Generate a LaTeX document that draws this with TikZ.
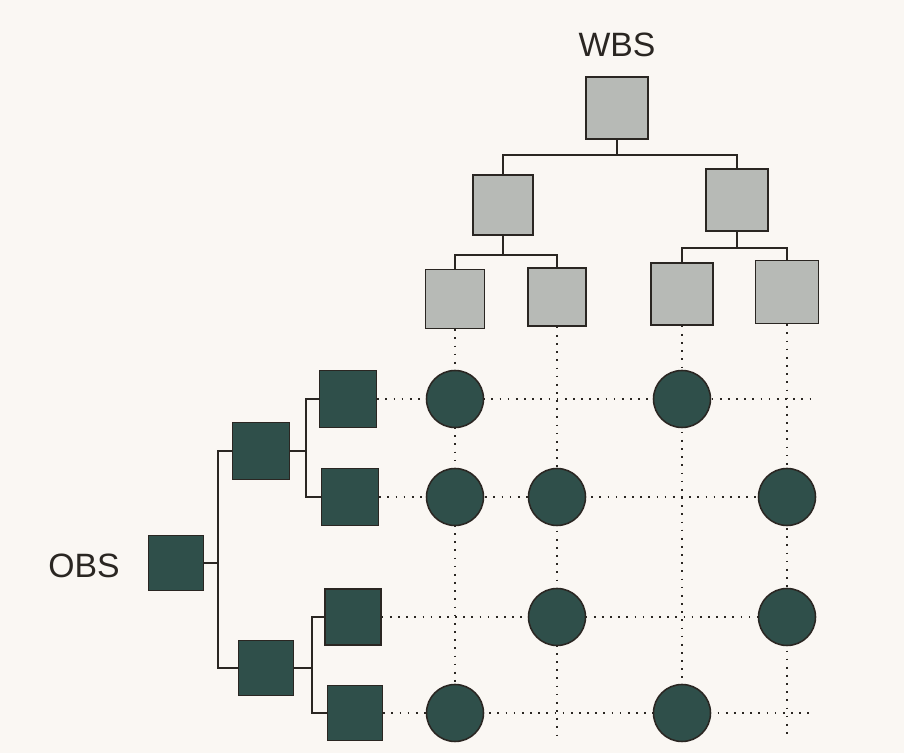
\documentclass[tikz,border=0pt]{standalone}
\usepackage{fontspec}
\setmainfont{Liberation Sans}
\usepackage{tikz}
\usetikzlibrary{calc}
\definecolor{paper}{HTML}{FAF7F3}
\definecolor{wbsgrey}{HTML}{B7BAB6}
\definecolor{obsteal}{HTML}{2F4F4A}
\definecolor{ink}{HTML}{2A2622}

\begin{document}
\begin{tikzpicture}[x=0.025cm,y=-0.025cm,
  wbox/.style={draw=ink,line width=1.1pt,fill=wbsgrey,inner sep=0pt,minimum size=#1*0.025cm},
  obox/.style={draw=ink,line width=1.1pt,fill=obsteal,inner sep=0pt,minimum size=#1*0.025cm},
  cell/.style={circle,draw=ink,line width=1.1pt,fill=obsteal,inner sep=0pt,minimum size=57*0.025cm},
  tree/.style={draw=ink,line width=1pt},
  grid/.style={draw=ink,line width=1.2pt,dash pattern=on 1.2pt off 4.6pt},
  lbl/.style={text=ink,font=\fontsize{24}{28}\selectfont}]
\fill[paper] (0,0) rectangle (904,753);
\useasboundingbox (0,0) rectangle (904,753);

% WBS side
\node[lbl] (wbslbl) at (617,45) {WBS};
\node[wbox=62] (wbs) at (617,108) {};
\node[wbox=60] (w1) at (503,205) {};
\node[wbox=62] (w2) at (737,200) {};
\node[wbox=59] (wa) at (455,299) {};
\node[wbox=58] (wb) at (557,297) {};
\node[wbox=62] (wc) at (682,294) {};
\node[wbox=63] (wd) at (787,292) {};
\coordinate (wbus) at (617,155);
\coordinate (w1bus) at (503,255);
\coordinate (w2bus) at (737,248);
\draw[tree] (wbs.south) -- (wbus);
\draw[tree] (w1.north) |- (wbus) -| (w2.north);
\draw[tree] (w1.south) -- (w1bus);
\draw[tree] (wa.north) |- (w1bus) -| (wb.north);
\draw[tree] (w2.south) -- (w2bus);
\draw[tree] (wc.north) |- (w2bus) -| (wd.north);

% OBS side
\node[lbl] (obslbl) at (84,566) {OBS};
\node[obox=55] (obs) at (176,563) {};
\node[obox=57] (m1) at (261,451) {};
\node[obox=55] (m2) at (266,668) {};
\node[obox=57] (o1) at (348,399) {};
\node[obox=57] (o2) at (350,497) {};
\node[obox=56] (o3) at (353,617) {};
\node[obox=55] (o4) at (355,713) {};
\coordinate (obus) at (218,563);
\coordinate (m1bus) at (306,451);
\coordinate (m2bus) at (312,668);
\draw[tree] (obs.east) -- (obus);
\draw[tree] (m1.west) -| (obus) |- (m2.west);
\draw[tree] (m1.east) -- (m1bus);
\draw[tree] (o1.west) -| (m1bus) |- (o2.west);
\draw[tree] (m2.east) -- (m2bus);
\draw[tree] (o3.west) -| (m2bus) |- (o4.west);

% matrix
\coordinate (gb) at (0,738);
\coordinate (gr) at (812,0);
\foreach \w in {wa,wb,wc,wd}
  \draw[grid] (\w.south) -- (\w.south |- gb);
\foreach \o in {o1,o2,o3,o4}
  \draw[grid] (\o.east) -- (\o.east -| gr);
\node[cell] (c11) at (wa |- o1) {};
\node[cell] (c13) at (wc |- o1) {};
\node[cell] (c21) at (wa |- o2) {};
\node[cell] (c22) at (wb |- o2) {};
\node[cell] (c24) at (wd |- o2) {};
\node[cell] (c32) at (wb |- o3) {};
\node[cell] (c34) at (wd |- o3) {};
\node[cell] (c41) at (wa |- o4) {};
\node[cell] (c43) at (wc |- o4) {};
\end{tikzpicture}
\end{document}
